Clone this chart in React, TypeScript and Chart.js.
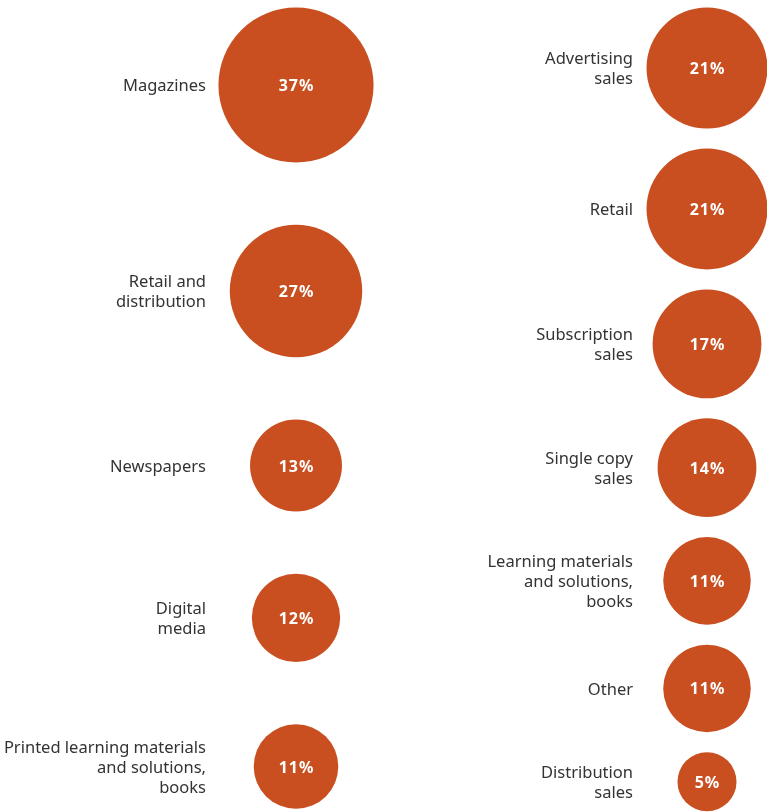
import React, { useEffect, useRef } from "react";
import { Chart, registerables } from "chart.js";

Chart.register(...registerables);

const leftLabels = [
  "Magazines",
  "Retail and\ndistribution",
  "Newspapers",
  "Digital\nmedia",
  "Printed learning materials\nand solutions,\nbooks",
];
const leftValues = [37, 27, 13, 12, 11];

const rightLabels = [
  "Advertising\nsales",
  "Retail",
  "Subscription\nsales",
  "Single copy\nsales",
  "Learning materials\nand solutions,\nbooks",
  "Other",
  "Distribution\nsales",
];
const rightValues = [21, 21, 17, 14, 11, 11, 5];

const COLOR = "#C94F20";
const W = 767;
const H = 812;

// layout helpers (style, not data)
function radiusOf(v: number, k: number) {
  return k * Math.sqrt(v);
}
function stackCenters(values: number[], k: number, top: number, gap: number) {
  const ys: number[] = [];
  let cursor = top;
  values.forEach((v) => {
    const r = radiusOf(v, k);
    ys.push(cursor + r);
    cursor += 2 * r + gap;
  });
  return ys;
}

const LEFT_K = 12.75;
const RIGHT_K = 13.2;

export default function App() {
  const ref = useRef<HTMLCanvasElement | null>(null);

  useEffect(() => {
    if (!ref.current) return;
    const leftY = stackCenters(leftValues, LEFT_K, 7.5, 62.2);
    const rightY = stackCenters(rightValues, RIGHT_K, 7.5, 20);

    const labelPlugin = {
      id: "bubbleLabels",
      afterDatasetsDraw(chart: any) {
        const ctx = chart.ctx;
        ctx.save();
        chart.data.datasets.forEach((ds: any, di: number) => {
          const meta = chart.getDatasetMeta(di);
          const labels = ds.labelsText as string[];
          const offset = ds.labelOffset as number;
          meta.data.forEach((el: any, i: number) => {
            const v = ds.values[i];
            ctx.fillStyle = "#ffffff";
            ctx.font = "bold 16px 'Noto Sans'";
            (ctx as any).letterSpacing = "1px";
            ctx.textAlign = "center";
            ctx.textBaseline = "middle";
            ctx.fillText(v + "%", el.x + 0.5, el.y + 1.5);
            (ctx as any).letterSpacing = "0px";

            const lines = labels[i].split("\n");
            ctx.fillStyle = "#333333";
            ctx.font = "16.5px 'Noto Sans'";
            ctx.textAlign = "right";
            const lh = 20;
            const startY = el.y + 1.5 - ((lines.length - 1) * lh) / 2;
            lines.forEach((ln, li) => {
              ctx.fillText(ln, el.x - offset, startY + li * lh);
            });
          });
        });
        ctx.restore();
      },
    };

    const chart = new Chart(ref.current, {
      type: "bubble",
      data: {
        datasets: [
          {
            data: leftValues.map((v, i) => ({ x: 0, y: leftY[i], r: radiusOf(v, LEFT_K) })),
            values: leftValues,
            labelsText: leftLabels,
            labelOffset: 90,
            backgroundColor: COLOR,
            borderWidth: 0,
            hoverBorderWidth: 0,
            clip: false,
          } as any,
          {
            data: rightValues.map((v, i) => ({ x: 1, y: rightY[i], r: radiusOf(v, RIGHT_K) })),
            values: rightValues,
            labelsText: rightLabels,
            labelOffset: 74,
            backgroundColor: COLOR,
            borderWidth: 0,
            hoverBorderWidth: 0,
            clip: false,
          } as any,
        ],
      },
      options: {
        animation: false,
        responsive: false,
        maintainAspectRatio: false,
        layout: { padding: 0, autoPadding: false },
        plugins: { legend: { display: false }, tooltip: { enabled: false } },
        events: [],
        scales: {
          x: { type: "linear", display: false, min: -296 / 411, max: -296 / 411 + W / 411 },
          y: { type: "linear", display: false, min: 0, max: H, reverse: true },
        },
      },
      plugins: [labelPlugin],
    });
    return () => chart.destroy();
  }, []);

  return (
    <div style={{ position: "absolute", left: 0, top: 0, width: W, height: H, background: "#fff" }}>
      <canvas ref={ref} width={W} height={H} style={{ display: "block", width: W, height: H }} />
    </div>
  );
}
